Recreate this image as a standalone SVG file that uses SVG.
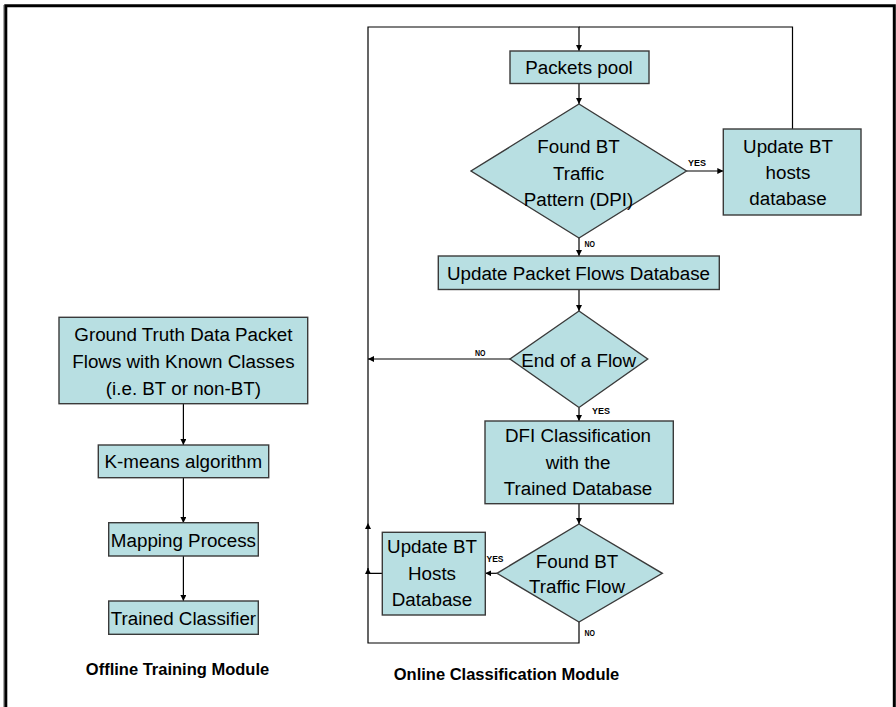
<svg xmlns="http://www.w3.org/2000/svg" width="896" height="707" viewBox="0 0 896 707">
  <style>
    .box { fill: #b8dfe2; stroke: #3a3a3a; stroke-width: 1.4; }
    .txt { font-family: "Liberation Sans", Arial, sans-serif; font-size: 18.8px; fill: #000; text-anchor: middle; }
    .lbl { font-family: "Liberation Sans", Arial, sans-serif; font-size: 9.5px; font-weight: bold; fill: #000; }
    .title { font-family: "Liberation Sans", Arial, sans-serif; font-size: 16.5px; font-weight: bold; fill: #000; text-anchor: middle; }
    .wire { fill: none; stroke: #000; stroke-width: 1.2; }
  </style>
  <defs>
    <marker id="arr" viewBox="0 0 10 10" refX="10" refY="5" markerWidth="6" markerHeight="6" markerUnits="userSpaceOnUse" orient="auto">
      <path d="M0,0 L10,5 L0,10 z" fill="#000"/>
    </marker>
  </defs>

  <rect x="0" y="0" width="896" height="707" fill="#fff"/>
  <!-- outer frame -->
  <line x1="3.6" y1="5" x2="3.6" y2="707" stroke="#aaa" stroke-width="1.2"/>
  <path d="M5.8,707 V5.7 H894.3 V707" fill="none" stroke="#000" stroke-width="3"/>

  <!-- connectors -->
  <g id="connectors">
    <!-- offline chain -->
    <line class="wire" x1="183.4" y1="404" x2="183.4" y2="445" marker-end="url(#arr)"/>
    <line class="wire" x1="183.4" y1="478" x2="183.4" y2="523" marker-end="url(#arr)"/>
    <line class="wire" x1="183.4" y1="556" x2="183.4" y2="601" marker-end="url(#arr)"/>
    <!-- online main chain -->
    <path class="wire" d="M368,523 V27 H579 V51" marker-end="url(#arr)"/>
    <path class="wire" d="M792.5,129 V27 H579"/>
    <line class="wire" x1="579" y1="83.5" x2="579" y2="104" marker-end="url(#arr)"/>
    <line class="wire" x1="686.5" y1="171" x2="723.3" y2="171" marker-end="url(#arr)"/>
    <line class="wire" x1="579" y1="238" x2="579" y2="256" marker-end="url(#arr)"/>
    <line class="wire" x1="579" y1="289.5" x2="579" y2="311" marker-end="url(#arr)"/>
    <line class="wire" x1="510" y1="359" x2="368" y2="359" marker-end="url(#arr)"/>
    <line class="wire" x1="579" y1="407.5" x2="579" y2="421" marker-end="url(#arr)"/>
    <line class="wire" x1="579" y1="504" x2="579" y2="524" marker-end="url(#arr)"/>
    <line class="wire" x1="497" y1="573.3" x2="485.3" y2="573.3" marker-end="url(#arr)"/>
    <path class="wire" d="M382.3,573.3 H368 V523" marker-end="url(#arr)"/>
    <path class="wire" d="M579,622 V643 H368 V568" marker-end="url(#arr)"/>
  </g>

  <!-- offline training module -->
  <g id="ground-truth">
    <rect class="box" x="59" y="317.3" width="248.7" height="86.4"/>
    <text class="txt" x="183.4" y="340.7">Ground Truth Data Packet</text>
    <text class="txt" x="183.4" y="367.7">Flows with Known Classes</text>
    <text class="txt" x="183.4" y="395">(i.e. BT or non-BT)</text>
  </g>
  <g id="kmeans">
    <rect class="box" x="98.3" y="445" width="170.4" height="32.7"/>
    <text class="txt" x="183.4" y="467.7">K-means algorithm</text>
  </g>
  <g id="mapping">
    <rect class="box" x="108.7" y="522.7" width="149.6" height="33.3"/>
    <text class="txt" x="183.4" y="547.3">Mapping Process</text>
  </g>
  <g id="trained-classifier">
    <rect class="box" x="108.7" y="601" width="149.6" height="33.3"/>
    <text class="txt" x="183.4" y="625">Trained Classifier</text>
  </g>
  <text class="title" x="177.5" y="675">Offline Training Module</text>

  <!-- online classification module -->
  <g id="packets-pool">
    <rect class="box" x="510" y="51" width="139" height="32.5"/>
    <text class="txt" x="579" y="74">Packets pool</text>
  </g>
  <g id="dpi-check">
    <polygon class="box" points="579,104 686.5,171 579,238 471,171"/>
    <text class="txt" x="578.5" y="152.7">Found BT</text>
    <text class="txt" x="578.5" y="180">Traffic</text>
    <text class="txt" x="578.5" y="206">Pattern (DPI)</text>
    <text class="lbl" x="688" y="166" textLength="18" lengthAdjust="spacingAndGlyphs">YES</text>
    <text class="lbl" x="584.5" y="247" textLength="10.5" lengthAdjust="spacingAndGlyphs">NO</text>
  </g>
  <g id="update-hosts-db">
    <rect class="box" x="723.3" y="129" width="137.7" height="86"/>
    <text class="txt" x="788" y="152.7">Update BT</text>
    <text class="txt" x="788" y="179">hosts</text>
    <text class="txt" x="788" y="205.3">database</text>
  </g>
  <g id="update-flows-db">
    <rect class="box" x="438.3" y="256" width="281" height="33.5"/>
    <text class="txt" x="578.5" y="280">Update Packet Flows Database</text>
  </g>
  <g id="end-of-flow">
    <polygon class="box" points="579,311 647.7,359 579,407.5 510,359"/>
    <text class="txt" x="578.7" y="366.7">End of a Flow</text>
    <text class="lbl" x="475" y="355.5" textLength="10.5" lengthAdjust="spacingAndGlyphs">NO</text>
    <text class="lbl" x="592" y="413.5" textLength="18" lengthAdjust="spacingAndGlyphs">YES</text>
  </g>
  <g id="dfi-classification">
    <rect class="box" x="485" y="421" width="188.3" height="82.7"/>
    <text class="txt" x="578" y="442.3">DFI Classification</text>
    <text class="txt" x="578" y="469.3">with the</text>
    <text class="txt" x="578" y="495">Trained Database</text>
  </g>
  <g id="flow-check">
    <polygon class="box" points="579,524 662.3,573.3 579,622 497,573.3"/>
    <text class="txt" x="577" y="567.7">Found BT</text>
    <text class="txt" x="577" y="593.3">Traffic Flow</text>
    <text class="lbl" x="486.5" y="562" textLength="17" lengthAdjust="spacingAndGlyphs">YES</text>
    <text class="lbl" x="584.5" y="635.5" textLength="10.5" lengthAdjust="spacingAndGlyphs">NO</text>
  </g>
  <g id="update-hosts-db-2">
    <rect class="box" x="382.3" y="532.3" width="103" height="82.7"/>
    <text class="txt" x="432" y="553.3">Update BT</text>
    <text class="txt" x="432" y="580">Hosts</text>
    <text class="txt" x="432" y="606">Database</text>
  </g>
  <text class="title" x="506.5" y="680">Online Classification Module</text>
</svg>
